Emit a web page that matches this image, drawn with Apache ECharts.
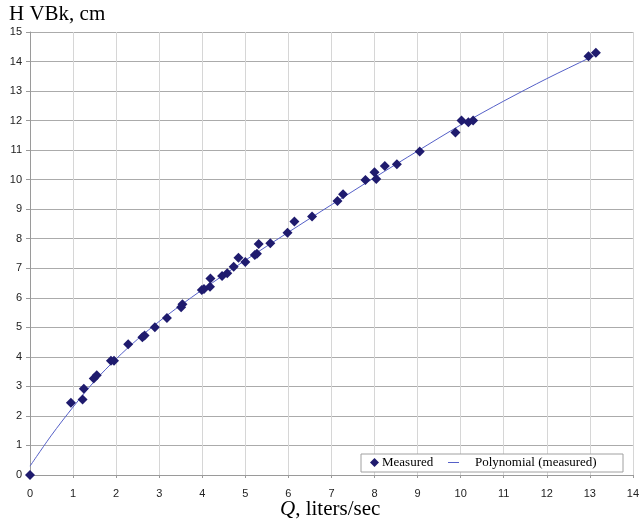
<!DOCTYPE html>
<html><head><meta charset="utf-8">
<script src="https://cdn.jsdelivr.net/npm/echarts@6/dist/echarts.min.js"></script>
<style>html,body{margin:0;padding:0;background:#fff}#c{width:642px;height:523px}</style>
</head><body><div id="c"></div>
<script>
const measuredQ = [0, 0.95, 1.22, 1.25, 1.48, 1.55, 1.88, 1.95, 2.28, 2.61, 2.66, 2.90, 3.18, 3.51, 3.54, 3.99, 4.04, 4.18, 4.19, 4.46, 4.58, 4.73, 4.84, 5.00, 5.22, 5.27, 5.31, 5.58, 5.98, 6.14, 6.55, 7.14, 7.27, 7.79, 8.00, 8.04, 8.24, 8.52, 9.05, 9.88, 10.02, 10.18, 10.29, 12.97, 13.14];
const measuredH = [0, 2.45, 2.56, 2.92, 3.27, 3.38, 3.87, 3.87, 4.43, 4.66, 4.72, 5.00, 5.32, 5.68, 5.78, 6.26, 6.30, 6.37, 6.65, 6.74, 6.83, 7.05, 7.36, 7.21, 7.45, 7.49, 7.82, 7.85, 8.20, 8.58, 8.75, 9.28, 9.51, 9.99, 10.25, 10.02, 10.46, 10.52, 10.95, 11.60, 12.00, 11.94, 12.00, 14.18, 14.30];
const trendQ = [0, 0.5, 1, 1.5, 2, 2.5, 3, 3.5, 4, 5, 6, 7, 8, 9, 10, 11, 12, 13, 13.14];
const trendH = [0.3, 1.35, 2.3, 3.18, 3.93, 4.6, 5.2, 5.75, 6.27, 7.27, 8.22, 9.15, 10.07, 10.97, 11.85, 12.66, 13.42, 14.13, 14.23];
const seriesNames = ['Measured', 'Polynomial (measured)'];
const yTitle = 'H VBk, cm';
const xTitleItalic = 'Q';
const xTitleRest = ', liters/sec';

const chart = echarts.init(document.getElementById('c'), null, {renderer: 'canvas'});
const serif = '"Liberation Serif", "Times New Roman", serif';
const sans = '"Liberation Sans", Arial, sans-serif';
const markerColor = '#1f1b6e';
const lineColor = '#5560c8';
chart.setOption({
  animation: false,
  backgroundColor: '#fff',
  grid: {left: 30, right: 4.5, top: 32, bottom: 48, containLabel: false},
  xAxis: {
    type: 'value', min: 0, max: 14, interval: 1,
    axisLine: {show: true, lineStyle: {color: '#9a9a9a', width: 1}},
    axisTick: {show: true, length: 3, lineStyle: {color: '#9a9a9a'}},
    axisLabel: {margin: 13, color: '#222', fontFamily: sans, fontSize: 11},
    splitLine: {show: true, lineStyle: {color: '#d6d6d6', width: 1}}
  },
  yAxis: {
    type: 'value', min: 0, max: 15, interval: 1,
    axisLine: {show: true, lineStyle: {color: '#9a9a9a', width: 1}},
    axisTick: {show: true, length: 4, lineStyle: {color: '#9a9a9a'}},
    axisLabel: {margin: 8, color: '#222', fontFamily: sans, fontSize: 11},
    splitLine: {show: true, lineStyle: {color: '#ababab', width: 1}}
  },
  legend: [
    {data: [{name: seriesNames[0], icon: 'diamond', itemStyle: {color: markerColor, opacity: 1}}],
     left: 370, top: 456, itemWidth: 9, itemHeight: 9,
     padding: 0, textStyle: {fontFamily: serif, fontSize: 13, color: '#000', padding: [0, 0, 0, -2]}},
    {data: [{name: seriesNames[1], icon: 'path://M0,0 L11,0 L11,1 L0,1 Z', itemStyle: {color: lineColor}}],
     left: 448, top: 456, itemWidth: 11, itemHeight: 1, symbolKeepAspect: false,
     padding: 0, textStyle: {fontFamily: serif, fontSize: 13, color: '#000', padding: [0, 0, 0, 11]}}
  ],
  graphic: [
    {type: 'rect', z: 3, shape: {x: 361, y: 454, width: 262, height: 18},
     style: {fill: '#fff', stroke: '#a0a0a0', lineWidth: 1}},
    {type: 'text', left: 9, top: 4, z: 5,
     style: {text: yTitle, font: '21px ' + serif, fill: '#000'}},
    {type: 'text', left: 280, top: 499, z: 5,
     style: {text: '{i|' + xTitleItalic + '}' + xTitleRest, font: '21px ' + serif, fill: '#000',
       rich: {i: {fontStyle: 'italic', fontFamily: serif, fontSize: 21, fill: '#000'}}}}
  ],
  series: [
    {name: seriesNames[0], type: 'scatter', symbol: 'diamond', symbolSize: 10,
     itemStyle: {color: markerColor, opacity: 1}, z: 3,
     data: measuredQ.map((q, i) => [q, measuredH[i]])},
    {name: seriesNames[1], type: 'line', showSymbol: false, symbol: 'none', smooth: 0.3,
     lineStyle: {color: lineColor, width: 1}, itemStyle: {color: lineColor}, z: 2,
     data: trendQ.map((q, i) => [q, trendH[i]])}
  ]
});
</script></body></html>
